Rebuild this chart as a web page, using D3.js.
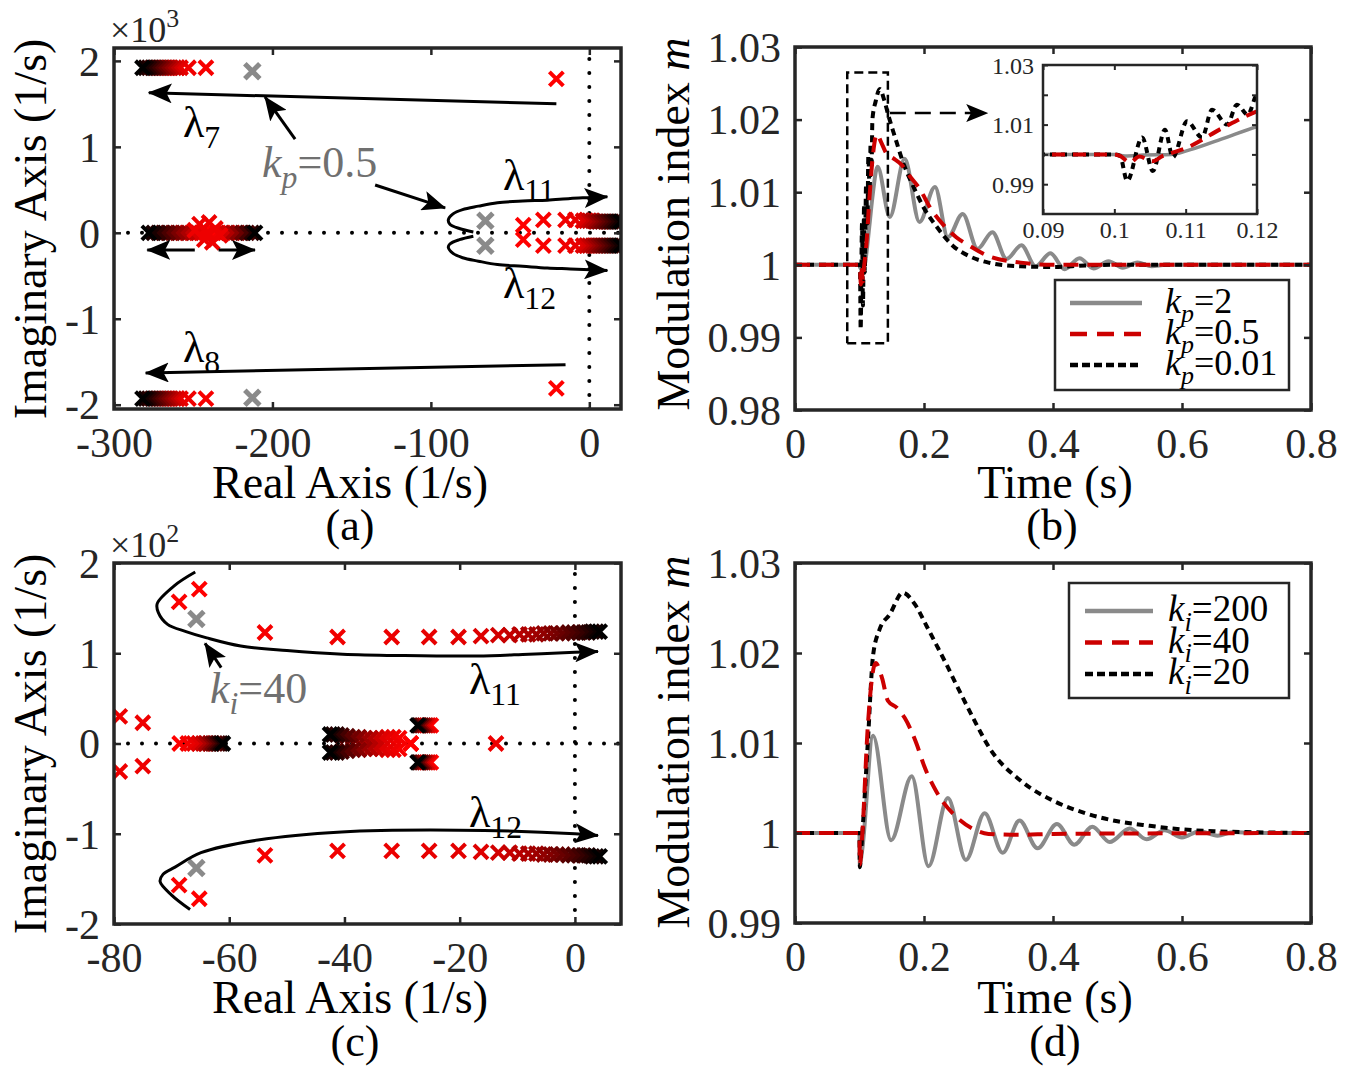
<!DOCTYPE html>
<html>
<head>
<meta charset="utf-8">
<script src="https://cdn.jsdelivr.net/npm/d3@7"></script>
<style>
  body { margin: 0; background: #fff; }
  text { font-family: "Liberation Serif", "Times New Roman", serif; }
</style>
</head>
<body>
<svg id="fig" width="1347" height="1069"></svg>
<script>
// ---------- (a) root locus vs kp, imag axis in x10^3 ----------
var aXTicks = [-300, -200, -100, 0];
var aYTicks = [-2, -1, 0, 1, 2];
// lambda7 / lambda8 branches (first point = lowest gain)
var a7X = [-20.8, -242, -253, -258, -260, -262, -264, -266, -268, -270, -272, -274, -276, -278, -280, -282];
var a7Y = [1.79, 1.92, 1.92, 1.92, 1.92, 1.92, 1.92, 1.92, 1.92, 1.92, 1.92, 1.92, 1.92, 1.92, 1.92, 1.92];
var a8Y = [-1.81, -1.93, -1.93, -1.93, -1.93, -1.93, -1.93, -1.93, -1.93, -1.93, -1.93, -1.93, -1.93, -1.93, -1.93, -1.93];
// real-axis poles around -240 splitting both ways
var aMidLX = [-239, -242, -245, -248, -251, -254, -257, -260, -263, -266, -269, -272, -275, -278];
var aMidLY = [0, 0, 0, 0, 0, 0, 0, 0, 0, 0, 0, 0, 0, 0];
var aMidRX = [-237, -234, -231, -228, -225, -222, -219, -216, -213, -211];
var aMidRY = [0, 0, 0, 0, 0, 0, 0, 0, 0, 0];
var aStarX = [-246, -240, -236, -243, -238, -241, -249, -233];
var aStarY = [0.1, 0.12, 0.05, -0.08, -0.11, 0, 0.03, -0.03];
// lambda11 / lambda12 poles
var aRX = [-41.7, -29, -15, -8.8, -4, -2, 0, 2, 4, 6, 8, 10, 12, 14, 16, 18, 20];
var aRUY = [0.09, 0.15, 0.15, 0.15, 0.14, 0.14, 0.14, 0.14, 0.13, 0.13, 0.13, 0.13, 0.13, 0.13, 0.13, 0.13, 0.13];
var aRLY = [-0.08, -0.15, -0.15, -0.15, -0.15, -0.15, -0.15, -0.15, -0.15, -0.15, -0.15, -0.15, -0.15, -0.15, -0.15, -0.15, -0.15];
// kp = 0.5 poles (grey)
var aGrayX = [-212.7, -212.7, -65.6, -65.6];
var aGrayY = [1.88, -1.92, 0.14, -0.15];
// locus arrows
var aL11X = [-73.2, -82, -88, -89, -86, -80, -70, -58, -42, -26.5, -12, 0.6, 11.4];
var aL11Y = [0.01, 0.05, 0.1, 0.15, 0.22, 0.27, 0.31, 0.35, 0.37, 0.38, 0.4, 0.41, 0.42];
var aL12Y = [-0.04, -0.08, -0.13, -0.17, -0.24, -0.29, -0.33, -0.37, -0.39, -0.41, -0.42, -0.43, -0.44];
var aL7X = [-20.8, -278], aL7Y = [1.5, 1.63];
var aL8X = [-15, -280], aL8Y = [-1.535, -1.63];
var aDLX = [-249, -279], aDRX = [-234, -211], aDY = [-0.2, -0.2];
var aK1X = [-185.7, -204.7], aK1Y = [1.09, 1.58];
var aK2X = [-135.2, -91], aK2Y = [0.556, 0.29];

// ---------- (b) modulation index, kp step ----------
var bXTicks = [0, 0.2, 0.4, 0.6, 0.8];
var bYTicks = [0.98, 0.99, 1, 1.01, 1.02, 1.03];
var bT2 = [0, 0.1, 0.1015, 0.104, 0.108, 0.11, 0.1152, 0.12, 0.128, 0.147, 0.170, 0.193, 0.217, 0.237, 0.26, 0.283, 0.306, 0.328, 0.351, 0.373, 0.396, 0.418, 0.441, 0.463, 0.486, 0.508, 0.531, 0.553, 0.575, 0.8];
var bM2 = [1, 1, 0.9995, 0.9998, 1.0, 1.0011, 1.0053, 1.0093, 1.0135, 1.0066, 1.0146, 1.0059, 1.0107, 1.0038, 1.007, 1.0022, 1.0045, 1.0008, 1.0027, 0.9998, 1.0016, 0.9994, 1.0009, 0.9995, 1.0005, 0.9996, 1.0003, 0.9998, 1.0, 1.0];
var bT05 = [0, 0.1, 0.1008, 0.1022, 0.1035, 0.1053, 0.1068, 0.1082, 0.1101, 0.1152, 0.12, 0.127, 0.134, 0.142, 0.152, 0.165, 0.178, 0.193, 0.21, 0.23, 0.25, 0.271, 0.3, 0.35, 0.4, 0.5, 0.8];
var bM05 = [1, 1, 0.9995, 0.9973, 0.9993, 0.9977, 0.9995, 1.0006, 1.0022, 1.0089, 1.0144, 1.018, 1.0168, 1.0153, 1.0147, 1.0138, 1.0122, 1.0105, 1.0078, 1.0055, 1.0038, 1.0026, 1.0012, 1.0003, 1.0, 1.0, 1.0];
var bT001 = [0, 0.1, 0.1008, 0.1018, 0.1039, 0.1054, 0.1071, 0.1082, 0.1102, 0.1123, 0.1137, 0.1158, 0.1172, 0.1187, 0.12, 0.125, 0.1315, 0.138, 0.145, 0.155, 0.168, 0.185, 0.2, 0.22, 0.245, 0.27, 0.3, 0.35, 0.4, 0.45, 0.5, 0.8];
var bM001 = [1, 1, 0.9995, 0.9911, 1.0057, 0.9944, 1.0083, 0.999, 1.0111, 1.0057, 1.015, 1.01, 1.0167, 1.0133, 1.02, 1.0225, 1.0242, 1.0228, 1.0205, 1.0176, 1.014, 1.0105, 1.0078, 1.0052, 1.0026, 1.0012, 1.0003, 0.9998, 0.9997, 0.9999, 1.0, 1.0];
var bBoxT = [0.081, 0.144], bBoxM = [0.9892, 1.0265];
var bArrT = [0.147, 0.298], bArrM = [1.0209, 1.0209];
var iXTicks = [0.09, 0.1, 0.11, 0.12];
var iYTicks = [0.99, 1, 1.01, 1.02, 1.03];
var iYLabels = ["0.99", "1.01", "1.03"];
var bLegend = ["2", "0.5", "0.01"];

// ---------- (c) root locus vs ki, imag axis in x10^2 ----------
var cXTicks = [-80, -60, -40, -20, 0];
var cYTicks = [-2, -1, 0, 1, 2];
var cTopX = [-65.2, -68.7, -53.8, -41.2, -31.8, -25.3, -20.2, -16.3, -13.3, -11.3, -9.6, -8.1, -6.7, -5.4, -4.2, -3.1, -2.1, -1.1, -0.2, 0.7, 1.5, 2.3, 3.0, 3.7, 4.3];
var cTopY = [1.71, 1.57, 1.23, 1.18, 1.18, 1.18, 1.18, 1.19, 1.2, 1.2, 1.21, 1.21, 1.21, 1.22, 1.22, 1.22, 1.22, 1.23, 1.23, 1.23, 1.23, 1.23, 1.24, 1.24, 1.24];
var cBotY = [-1.72, -1.57, -1.24, -1.19, -1.19, -1.19, -1.19, -1.2, -1.21, -1.21, -1.22, -1.22, -1.22, -1.23, -1.23, -1.23, -1.23, -1.24, -1.24, -1.24, -1.24, -1.24, -1.25, -1.25, -1.25];
var cGrayX = [-65.7, -65.7], cGrayY = [1.38, -1.38];
var cFarX = [-79, -79, -75, -75], cFarY = [0.3, -0.31, 0.23, -0.25];
var cAxX = [-68.6, -67.2, -66.1, -65.3, -64.6, -64.0, -63.4, -62.9, -62.4, -61.9, -61.5, -61.1];
var cAxY = [0, 0, 0, 0, 0, 0, 0, 0, 0, 0, 0, 0];
var cBlobX = [-28.5, -30.5, -31.5, -32.5, -33.5, -34.5, -35.5, -36.5, -37.5, -38.5, -39.5, -40.5, -41.3, -42.0, -42.5];
var cBlobUY = [0, 0.06, 0.07, 0.07, 0.06, 0.06, 0.06, 0.06, 0.07, 0.07, 0.08, 0.09, 0.1, 0.1, 0.1];
var cBlobLY = [0, -0.06, -0.07, -0.07, -0.06, -0.06, -0.06, -0.06, -0.07, -0.07, -0.08, -0.09, -0.1, -0.1, -0.1];
var cPairX = [-25.0, -25.4, -25.8, -26.2, -26.6, -27.0, -27.3];
var cPairUY = [0.2, 0.2, 0.2, 0.2, 0.2, 0.2, 0.2];
var cPairLY = [-0.21, -0.21, -0.21, -0.21, -0.21, -0.21, -0.21];
var cOneX = [-13.7], cOneY = [0];
var cL11X = [-65.9, -69.5, -72.5, -72.3, -70.7, -67.5, -63.9, -58, -50, -40.3, -30, -17, -8, 0, 4];
var cL11Y = [1.9, 1.75, 1.55, 1.45, 1.32, 1.24, 1.17, 1.08, 1.03, 0.99, 0.975, 0.97, 0.99, 1.01, 1.02];
var cL12X = [-66.8, -70, -72, -71.5, -69.4, -64.9, -55, -40.5, -20.2, 0, 4];
var cL12Y = [-1.84, -1.68, -1.53, -1.45, -1.37, -1.21, -1.07, -0.98, -0.96, -1.0, -1.02];
var cKX = [-61.4, -64.2], cKY = [0.84, 1.11];

// ---------- (d) modulation index, ki step ----------
var dXTicks = [0, 0.2, 0.4, 0.6, 0.8];
var dYTicks = [0.99, 1, 1.01, 1.02, 1.03];
var dT200 = [0, 0.1, 0.1005, 0.104, 0.121, 0.149, 0.181, 0.207, 0.237, 0.265, 0.294, 0.322, 0.348, 0.376, 0.406, 0.433, 0.461, 0.488, 0.519, 0.545, 0.573, 0.6, 0.627, 0.655, 0.68, 0.71, 0.8];
var dM200 = [1, 1, 0.9965, 0.998, 1.0108, 0.9992, 1.0063, 0.9963, 1.0039, 0.997, 1.0022, 0.9978, 1.0014, 0.9983, 1.001, 0.9987, 1.0007, 0.999, 1.0005, 0.9993, 1.0003, 0.9995, 1.0002, 0.9997, 1.0001, 1.0, 1.0];
var dT40 = [0, 0.1, 0.1005, 0.104, 0.113, 0.125, 0.135, 0.144, 0.158, 0.17, 0.189, 0.2, 0.22, 0.25, 0.275, 0.3, 0.35, 0.4, 0.8];
var dM40 = [1, 1, 0.9965, 0.9995, 1.012, 1.0189, 1.0172, 1.0147, 1.0139, 1.0128, 1.0098, 1.0075, 1.0045, 1.0018, 1.0005, 0.9999, 0.9998, 0.9999, 1.0];
var dT20 = [0, 0.1, 0.1005, 0.104, 0.113, 0.121, 0.131, 0.147, 0.167, 0.186, 0.204, 0.22, 0.235, 0.25, 0.276, 0.302, 0.35, 0.4, 0.45, 0.5, 0.55, 0.6, 0.65, 0.7, 0.8];
var dM20 = [1, 1, 0.9962, 0.9995, 1.0102, 1.0197, 1.0226, 1.0243, 1.0267, 1.0254, 1.023, 1.0208, 1.0187, 1.0165, 1.0128, 1.0094, 1.0058, 1.0036, 1.0022, 1.0013, 1.0008, 1.0004, 1.0002, 1.0001, 1.0];
var dLegend = ["200", "40", "20"];

// ---------- drawing ----------
var svg = d3.select("#fig");
var INK = "#262626", RED = "#cc0000", GRAY = "#8a8a8a", TGRAY = "#707070";
var defs = svg.append("defs");

function arrowMarker(id, len, half) {
  defs.append("marker").attr("id", id)
    .attr("viewBox", "0 " + (-half) + " " + len + " " + (2 * half))
    .attr("refX", len - 1).attr("refY", 0)
    .attr("markerWidth", len).attr("markerHeight", 2 * half)
    .attr("markerUnits", "userSpaceOnUse").attr("orient", "auto")
    .append("path").attr("d", "M0," + (-half) + "L" + len + ",0L0," + half + "L" + (len * 0.22) + ",0Z")
    .attr("fill", "#000");
}
arrowMarker("ah", 24, 10);
arrowMarker("ahs", 22, 9);

var clipN = 0;
function panel(box, xDom, yDom, bg) {
  var x = d3.scaleLinear().domain(xDom).range([box.x0, box.x1]);
  var y = d3.scaleLinear().domain(yDom).range([box.y1, box.y0]);
  var id = "clip" + (clipN++);
  defs.append("clipPath").attr("id", id).append("rect")
    .attr("x", box.x0).attr("y", box.y0).attr("width", box.x1 - box.x0).attr("height", box.y1 - box.y0);
  var g = svg.append("g");
  if (bg) g.append("rect").attr("x", box.x0).attr("y", box.y0).attr("width", box.x1 - box.x0)
    .attr("height", box.y1 - box.y0).attr("fill", "#fff");
  var plot = g.append("g").attr("clip-path", "url(#" + id + ")");
  return { box: box, x: x, y: y, g: g, plot: plot };
}

function axes(p, xt, yt, fx, fy, o) {
  var box = p.box, g = p.g;
  var style = function (sel) {
    sel.select(".domain").remove();
    sel.attr("font-size", o.fs).attr("font-family", null);
    sel.selectAll("line").attr("stroke", INK).attr("stroke-width", o.tw);
    sel.selectAll("text").attr("fill", INK);
  };
  var none = function () { return ""; };
  g.append("g").attr("transform", "translate(0," + box.y1 + ")")
    .call(d3.axisBottom(p.x).tickValues(xt).tickSize(-o.tl).tickFormat(fx)).call(style)
    .selectAll("text").attr("y", o.xOff).attr("dy", null);
  g.append("g").attr("transform", "translate(0," + box.y0 + ")")
    .call(d3.axisTop(p.x).tickValues(xt).tickSize(-o.tl).tickFormat(none)).call(style);
  g.append("g").attr("transform", "translate(" + box.x0 + ",0)")
    .call(d3.axisLeft(p.y).tickValues(yt).tickSize(-o.tl).tickFormat(fy)).call(style)
    .selectAll("text").attr("x", -o.yOff).attr("dy", "0.34em");
  g.append("g").attr("transform", "translate(" + box.x1 + ",0)")
    .call(d3.axisRight(p.y).tickValues(yt).tickSize(-o.tl).tickFormat(none)).call(style);
  g.append("rect").attr("x", box.x0).attr("y", box.y0)
    .attr("width", box.x1 - box.x0).attr("height", box.y1 - box.y0)
    .attr("fill", "none").attr("stroke", INK).attr("stroke-width", o.fw);
}

// rich text: pieces [{t, it, sub, sup}]
function rich(g, x, y, fs, color, anchor, pieces, rot) {
  var t = g.append("text").attr("font-size", fs).attr("fill", color).attr("text-anchor", anchor || "start");
  if (rot) t.attr("transform", "translate(" + x + "," + y + ") rotate(-90)");
  else t.attr("x", x).attr("y", y);
  var shift = 0;
  pieces.forEach(function (pc) {
    var s = t.append("tspan").text(pc.t);
    if (pc.it) s.attr("font-style", "italic");
    var want = pc.sub ? 0.26 * fs : pc.sup ? -0.42 * fs : 0;
    if (pc.sub || pc.sup) s.attr("font-size", fs * 0.72);
    if (want !== shift) { s.attr("dy", want - shift); shift = want; }
  });
  return t;
}

var ramp = d3.scaleLinear().domain([0, 0.3, 1]).range(["#ff0000", "#dd0000", "#000000"]);

function crosses(p, xs, ys, color, s, w) {
  var n = xs.length;
  p.plot.append("g").selectAll("path").data(d3.range(n)).join("path")
    .attr("d", function (i) {
      var cx = p.x(xs[i]), cy = p.y(ys[i]);
      return "M" + (cx - s) + "," + (cy - s) + "L" + (cx + s) + "," + (cy + s) +
        "M" + (cx - s) + "," + (cy + s) + "L" + (cx + s) + "," + (cy - s);
    })
    .attr("stroke", function (i) { return color || ramp(n > 1 ? i / (n - 1) : 0); })
    .attr("stroke-width", w).attr("fill", "none");
}

function path(p, xs, ys, curve, attrs, layer) {
  var ln = d3.line().x(function (d) { return p.x(d[0]); }).y(function (d) { return p.y(d[1]); });
  if (curve) ln.curve(curve);
  var el = (layer || p.plot).append("path").attr("d", ln(d3.zip(xs, ys))).attr("fill", "none");
  Object.keys(attrs).forEach(function (k) { el.attr(k, attrs[k]); });
  return el;
}

function refLines(p, xDom, yDom) {
  var dot = { stroke: "#000", "stroke-width": 4, "stroke-dasharray": "0,14", "stroke-linecap": "round" };
  path(p, xDom, [0, 0], null, dot);
  path(p, [0, 0], yDom, null, dot);
}

function lam(g, x, y, sub) {
  rich(g, x, y, 44, "#000", "start", [{ t: "λ" }, { t: sub, sub: true }]);
}

var tickOpt = { fs: 42, tl: 7, tw: 2.5, fw: 3.5, xOff: 48, yOff: 14 };
var str = function (d) { return String(d); };
var XS = 7, XW = 4;

// ===== panel (a) =====
var A = panel({ x0: 114, y0: 48, x1: 621, y1: 409 }, [-300, 20], [-2.05, 2.15]);
refLines(A, [-300, 20], [-2.05, 2.15]);
crosses(A, a7X, a7Y, null, XS, XW);
crosses(A, a7X, a8Y, null, XS, XW);
crosses(A, aMidLX, aMidLY, null, XS, XW);
crosses(A, aMidRX, aMidRY, null, XS, XW);
crosses(A, aStarX, aStarY, "#ee0000", XS, XW);
crosses(A, aRX, aRUY, null, XS, XW);
crosses(A, aRX, aRLY, null, XS, XW);
crosses(A, aGrayX, aGrayY, GRAY, 7.5, 5);
var arr = { stroke: "#000", "stroke-width": 3, "marker-end": "url(#ah)" };
path(A, aL11X, aL11Y, d3.curveCatmullRom, arr, A.g);
path(A, aL11X, aL12Y, d3.curveCatmullRom, arr, A.g);
path(A, aL7X, aL7Y, null, arr, A.g);
path(A, aL8X, aL8Y, null, arr, A.g);
path(A, aDLX, aDY, null, arr, A.g);
path(A, aDRX, aDY, null, arr, A.g);
path(A, aK1X, aK1Y, null, arr, A.g);
path(A, aK2X, aK2Y, null, arr, A.g);
axes(A, aXTicks, aYTicks, str, str, tickOpt);
lam(A.g, 183, 137, "7");
lam(A.g, 183, 362, "8");
lam(A.g, 503, 190, "11");
lam(A.g, 503, 298, "12");
rich(A.g, 262, 177, 44, TGRAY, "start", [{ t: "k", it: true }, { t: "p", it: true, sub: true }, { t: "=0.5" }]);
rich(A.g, 110, 42, 36, INK, "start", [{ t: "×10" }, { t: "3", sup: true }]);
rich(A.g, 46, 229, 46, "#000", "middle", [{ t: "Imaginary Axis (1/s)" }], true);
rich(A.g, 350, 498, 46, "#000", "middle", [{ t: "Real Axis (1/s)" }]);
rich(A.g, 350, 540, 44, "#000", "middle", [{ t: "(a)" }]);

// ===== panel (b) =====
var B = panel({ x0: 795, y0: 47, x1: 1311, y1: 410 }, [0, 0.8], [0.98, 1.03]);
var sGray = { stroke: GRAY, "stroke-width": 4 };
var sRed = { stroke: RED, "stroke-width": 4, "stroke-dasharray": "15,9" };
var sBlk = { stroke: "#000", "stroke-width": 4, "stroke-dasharray": "7,5" };
path(B, bT2, bM2, d3.curveMonotoneX, sGray);
path(B, bT001, bM001, d3.curveMonotoneX, sBlk);
path(B, bT05, bM05, d3.curveMonotoneX, sRed);
path(B, [bBoxT[0], bBoxT[1], bBoxT[1], bBoxT[0], bBoxT[0]], [bBoxM[0], bBoxM[0], bBoxM[1], bBoxM[1], bBoxM[0]], null,
  { stroke: "#000", "stroke-width": 2.5, "stroke-dasharray": "9,5" });
path(B, bArrT, bArrM, null, { stroke: "#000", "stroke-width": 2.5, "stroke-dasharray": "16,9", "marker-end": "url(#ahs)" });
axes(B, bXTicks, bYTicks, str, str, tickOpt);
rich(B.g, 689, 224, 46, "#000", "middle", [{ t: "Modulation index " }, { t: "m", it: true }], true);
rich(B.g, 1055, 498, 46, "#000", "middle", [{ t: "Time (s)" }]);
rich(B.g, 1052, 540, 44, "#000", "middle", [{ t: "(b)" }]);

// inset
var I = panel({ x0: 1043, y0: 65, x1: 1257, y1: 214 }, [0.09, 0.12], [0.98, 1.03], true);
path(I, bT2, bM2, d3.curveMonotoneX, { stroke: GRAY, "stroke-width": 3.5 });
path(I, bT001, bM001, d3.curveMonotoneX, { stroke: "#000", "stroke-width": 4, "stroke-dasharray": "6,5" });
path(I, bT05, bM05, d3.curveMonotoneX, { stroke: RED, "stroke-width": 4, "stroke-dasharray": "13,8" });
axes(I, iXTicks, iYTicks, str,
  function (d) { var s = String(d); return iYLabels.indexOf(s) >= 0 ? s : ""; },
  { fs: 24, tl: 5, tw: 2, fw: 2.5, xOff: 24, yOff: 9 });

// legend box with three sample lines
function legend(g, box, rows, styles, sub, fs) {
  g.append("rect").attr("x", box.x).attr("y", box.y).attr("width", box.w).attr("height", box.h)
    .attr("fill", "#fff").attr("stroke", INK).attr("stroke-width", 2.5);
  rows.forEach(function (lab, i) {
    var ly = box.y + box.r0 + i * box.dr;
    var ln = g.append("line").attr("x1", box.x + box.l0).attr("x2", box.x + box.l1)
      .attr("y1", ly).attr("y2", ly);
    Object.keys(styles[i]).forEach(function (k) { ln.attr(k, styles[i][k]); });
    rich(g, box.x + box.tx, ly + box.tb, fs, "#000", "start",
      [{ t: "k", it: true }, { t: sub, it: true, sub: true }, { t: "=" + lab }]);
  });
}
var lgStyles = [
  { stroke: GRAY, "stroke-width": 4.5 },
  { stroke: RED, "stroke-width": 4.5, "stroke-dasharray": "17,10" },
  { stroke: "#000", "stroke-width": 4.5, "stroke-dasharray": "8,4" }
];
legend(B.g, { x: 1055, y: 280, w: 234, h: 110, r0: 23, dr: 31, l0: 15, l1: 87, tx: 110, tb: 10 }, bLegend, lgStyles, "p", 36);

// ===== panel (c) =====
var C = panel({ x0: 114, y0: 563, x1: 621, y1: 924 }, [-80, 8], [-2, 2]);
refLines(C, [-80, 8], [-2, 2]);
crosses(C, cFarX, cFarY, "#ee0000", XS, XW);
crosses(C, cAxX, cAxY, null, XS, XW);
crosses(C, cBlobX, cBlobUY, null, XS, XW);
crosses(C, cBlobX, cBlobLY, null, XS, XW);
crosses(C, cPairX, cPairUY, null, XS, XW);
crosses(C, cPairX, cPairLY, null, XS, XW);
crosses(C, cOneX, cOneY, "#ee0000", XS, XW);
crosses(C, cTopX, cTopY, null, XS, XW);
crosses(C, cTopX, cBotY, null, XS, XW);
crosses(C, cGrayX, cGrayY, GRAY, 7.5, 5);
path(C, cL11X, cL11Y, d3.curveCatmullRom, arr, C.g);
path(C, cL12X, cL12Y, d3.curveCatmullRom, arr, C.g);
path(C, cKX, cKY, null, arr, C.g);
axes(C, cXTicks, cYTicks, str, str, tickOpt);
lam(C.g, 469, 694, "11");
lam(C.g, 469, 827, "12");
rich(C.g, 210, 703, 44, TGRAY, "start", [{ t: "k", it: true }, { t: "i", it: true, sub: true }, { t: "=40" }]);
rich(C.g, 110, 557, 36, INK, "start", [{ t: "×10" }, { t: "2", sup: true }]);
rich(C.g, 46, 744, 46, "#000", "middle", [{ t: "Imaginary Axis (1/s)" }], true);
rich(C.g, 350, 1013, 46, "#000", "middle", [{ t: "Real Axis (1/s)" }]);
rich(C.g, 355, 1056, 44, "#000", "middle", [{ t: "(c)" }]);

// ===== panel (d) =====
var D = panel({ x0: 795, y0: 563, x1: 1311, y1: 923 }, [0, 0.8], [0.99, 1.03]);
path(D, dT200, dM200, d3.curveMonotoneX, sGray);
path(D, dT20, dM20, d3.curveMonotoneX, sBlk);
path(D, dT40, dM40, d3.curveMonotoneX, sRed);
axes(D, dXTicks, dYTicks, str, str, tickOpt);
legend(D.g, { x: 1069, y: 583, w: 220, h: 115, r0: 28, dr: 31.5, l0: 16, l1: 84, tx: 99, tb: 10 }, dLegend, lgStyles, "i", 37);
rich(D.g, 689, 742, 46, "#000", "middle", [{ t: "Modulation index " }, { t: "m", it: true }], true);
rich(D.g, 1055, 1013, 46, "#000", "middle", [{ t: "Time (s)" }]);
rich(D.g, 1055, 1056, 44, "#000", "middle", [{ t: "(d)" }]);
</script>
</body>
</html>
